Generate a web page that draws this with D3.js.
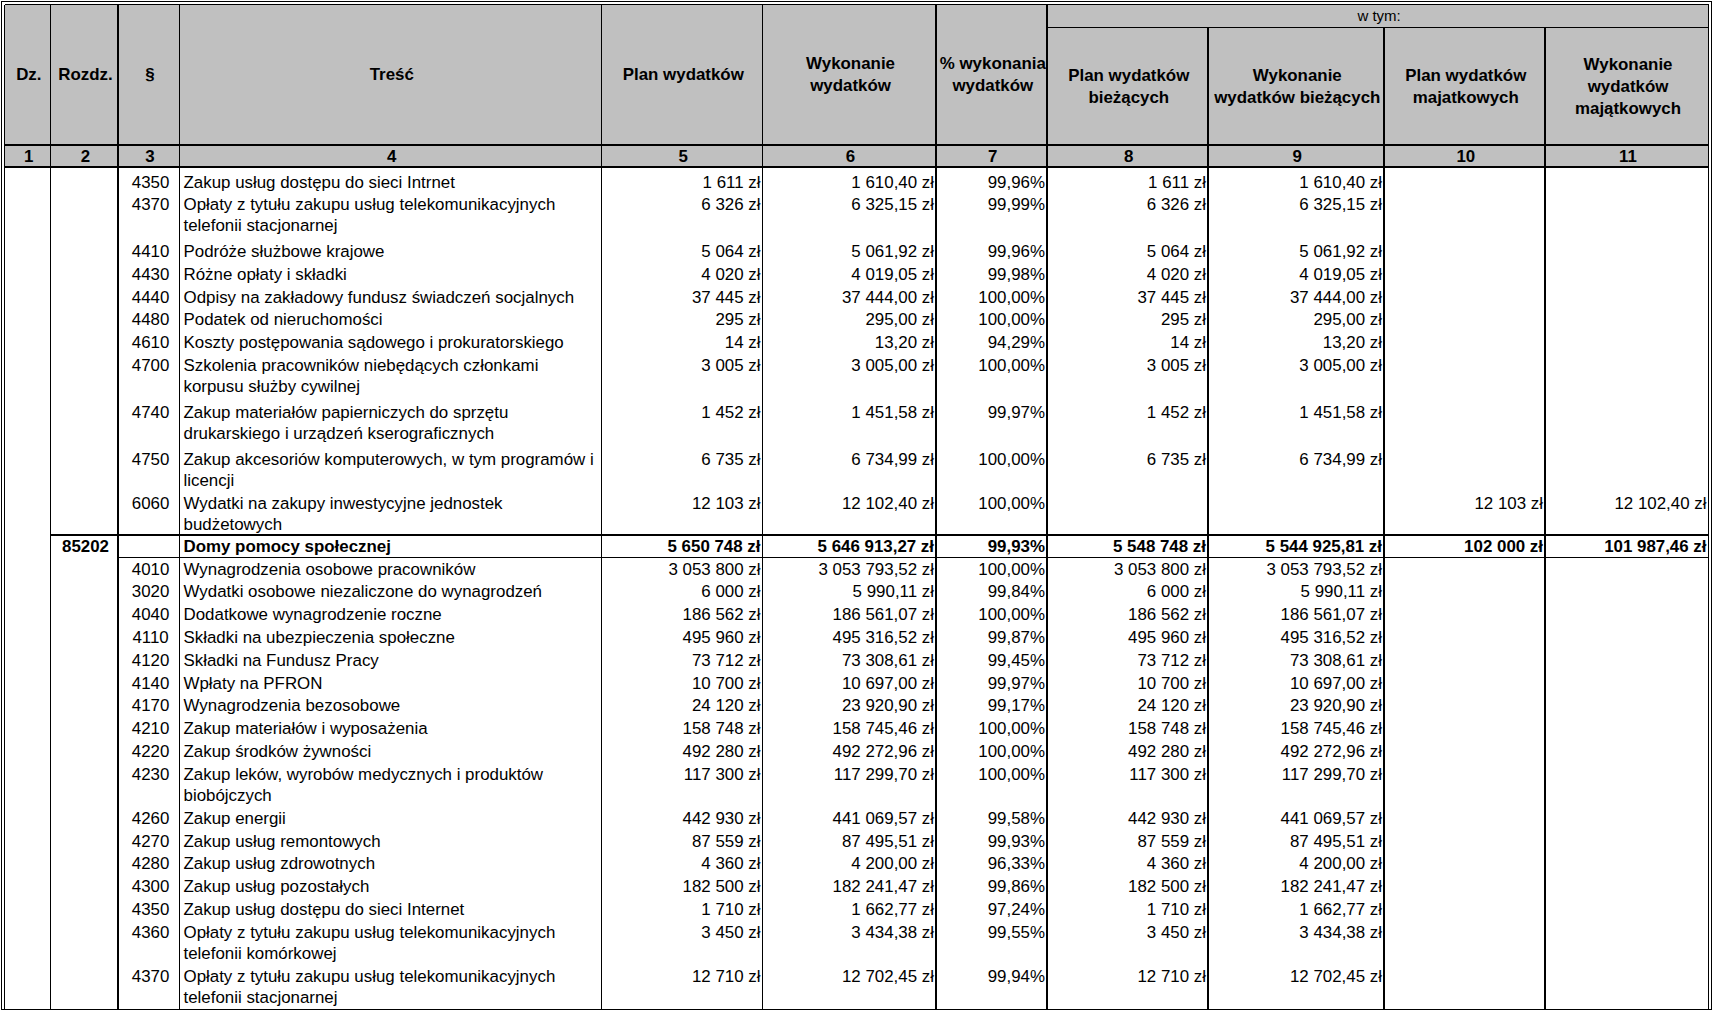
<!DOCTYPE html>
<html><head><meta charset="utf-8">
<script src="https://cdn.jsdelivr.net/npm/d3@7"></script>
<style>
html,body{margin:0;padding:0;background:#fff;}
svg{display:block;font-family:"Liberation Sans",Arial,sans-serif;}
</style>
</head><body>
<svg id="t" width="1714" height="1011"></svg>
<script>
// ---------------- DATA ----------------
const columnNumbers = ["1","2","3","4","5","6","7","8","9","10","11"];
const headerLabels = [
  ["Dz."], ["Rozdz."], ["§"], ["Treść"], ["Plan wydatków"],
  ["Wykonanie","wydatków"], ["% wykonania","wydatków"],
  ["Plan wydatków","bieżących"], ["Wykonanie","wydatków bieżących"],
  ["Plan wydatków","majatkowych"], ["Wykonanie","wydatków","majątkowych"]
];
const groupLabel = "w tym:";

const rozdzialy = ["","","","","","","","","","","","85202","","","","","","","","","","","","","","","","",""];
const paragrafy = ["4350","4370","4410","4430","4440","4480","4610","4700","4740","4750","6060","",
  "4010","3020","4040","4110","4120","4140","4170","4210","4220","4230","4260","4270","4280","4300","4350","4360","4370"];
const tresc = [
  "Zakup usług dostępu do sieci Intrnet",
  "Opłaty z tytułu zakupu usług telekomunikacyjnych\ntelefonii stacjonarnej",
  "Podróże służbowe krajowe",
  "Różne opłaty i składki",
  "Odpisy na zakładowy fundusz świadczeń socjalnych",
  "Podatek od nieruchomości",
  "Koszty postępowania sądowego i prokuratorskiego",
  "Szkolenia pracowników niebędących członkami\nkorpusu służby cywilnej",
  "Zakup materiałów papierniczych do sprzętu\ndrukarskiego i urządzeń kserograficznych",
  "Zakup akcesoriów komputerowych, w tym programów i\nlicencji",
  "Wydatki na zakupy inwestycyjne jednostek\nbudżetowych",
  "Domy pomocy społecznej",
  "Wynagrodzenia osobowe pracowników",
  "Wydatki osobowe niezaliczone do wynagrodzeń",
  "Dodatkowe wynagrodzenie roczne",
  "Składki na ubezpieczenia społeczne",
  "Składki na Fundusz Pracy",
  "Wpłaty na PFRON",
  "Wynagrodzenia bezosobowe",
  "Zakup materiałów i wyposażenia",
  "Zakup środków żywności",
  "Zakup leków, wyrobów medycznych i produktów\nbiobójczych",
  "Zakup energii",
  "Zakup usług remontowych",
  "Zakup usług zdrowotnych",
  "Zakup usług pozostałych",
  "Zakup usług dostępu do sieci Internet",
  "Opłaty z tytułu zakupu usług telekomunikacyjnych\ntelefonii komórkowej",
  "Opłaty z tytułu zakupu usług telekomunikacyjnych\ntelefonii stacjonarnej"
];
const planWydatkow = [1611,6326,5064,4020,37445,295,14,3005,1452,6735,12103,5650748,
  3053800,6000,186562,495960,73712,10700,24120,158748,492280,117300,442930,87559,4360,182500,1710,3450,12710];
const wykonanieWydatkow = [1610.40,6325.15,5061.92,4019.05,37444.00,295.00,13.20,3005.00,1451.58,6734.99,12102.40,5646913.27,
  3053793.52,5990.11,186561.07,495316.52,73308.61,10697.00,23920.90,158745.46,492272.96,117299.70,441069.57,87495.51,4200.00,182241.47,1662.77,3434.38,12702.45];
const procentWykonania = [99.96,99.99,99.96,99.98,100.00,100.00,94.29,100.00,99.97,100.00,100.00,99.93,
  100.00,99.84,100.00,99.87,99.45,99.97,99.17,100.00,100.00,100.00,99.58,99.93,96.33,99.86,97.24,99.55,99.94];
const planBiezace = [1611,6326,5064,4020,37445,295,14,3005,1452,6735,null,5548748,
  3053800,6000,186562,495960,73712,10700,24120,158748,492280,117300,442930,87559,4360,182500,1710,3450,12710];
const wykonanieBiezace = [1610.40,6325.15,5061.92,4019.05,37444.00,295.00,13.20,3005.00,1451.58,6734.99,null,5544925.81,
  3053793.52,5990.11,186561.07,495316.52,73308.61,10697.00,23920.90,158745.46,492272.96,117299.70,441069.57,87495.51,4200.00,182241.47,1662.77,3434.38,12702.45];
const planMajatkowe = [null,null,null,null,null,null,null,null,null,null,12103,102000,
  null,null,null,null,null,null,null,null,null,null,null,null,null,null,null,null,null];
const wykonanieMajatkowe = [null,null,null,null,null,null,null,null,null,null,12102.40,101987.46,
  null,null,null,null,null,null,null,null,null,null,null,null,null,null,null,null,null];

// ---------------- LAYOUT ----------------
const colEdges = [4.5, 50.5, 118, 179.5, 601.5, 762.5, 936, 1047, 1208, 1384, 1545, 1708.5];
const thickEdges = new Set([2,6,7,8,9,10]);
const groupStartCol = 7;
const yTop = 5, yGroup = 27.5, yHeadBottom = 145, yNumBottom = 167, yBottom = 1009.5;
const sectionIndex = rozdzialy.findIndex(d => d !== "");
const rowHeights = [22.7,47,22.7,22.7,22.7,22.7,22.7,47,47,44,47, 22.1,
  22.8,22.8,22.8,22.8,22.8,22.8,22.8,22.8,22.8,44,22.8,22.8,22.8,22.8,22.8,44.5,44.5];
const rowTops = [yNumBottom, ...d3.cumsum(rowHeights).map(v => yNumBottom + v)];
const xCol = d3.scaleOrdinal().domain(d3.range(colEdges.length)).range(colEdges);
const yRow = d3.scaleOrdinal().domain(d3.range(rowTops.length)).range(rowTops);
const FS = 16.9, LINE = 21, LINE_H = 22, CSHIFT = 1.3;
const cx = c => (xCol(c) + xCol(c+1)) / 2 + CSHIFT;

const svg = d3.select("#t");
svg.append("rect").attr("width",1714).attr("height",1011).attr("fill","#fff");
svg.append("rect").attr("x",xCol(0)).attr("y",yTop).attr("width",xCol(11)-xCol(0)).attr("height",yNumBottom-yTop).attr("fill","#c0c0c0");

const fmt = d3.formatLocale({decimal:",", thousands:"\u00a0", grouping:[3], currency:["","\u00a0zł"]});
const fPlan = fmt.format("$,.0f"), fExec = fmt.format("$,.2f"), fNum = fmt.format(",.2f");
const fPct = v => fNum(v) + "%";

const gText = svg.append("g").attr("fill","#000").attr("font-size",FS);

headerLabels.forEach((lines, c) => {
  const cy = c >= groupStartCol ? (yGroup + yHeadBottom) / 2 : (yTop + yHeadBottom) / 2 - 1;
  lines.forEach((ln, i) => {
    gText.append("text").attr("x",cx(c)).attr("y",cy + (i - (lines.length-1)/2)*LINE_H + 6)
      .attr("text-anchor","middle").attr("font-weight","bold").text(ln);
  });
});
gText.append("text").attr("x",(xCol(groupStartCol)+xCol(11))/2 + CSHIFT).attr("y",(yTop+yGroup)/2 + 4.5)
  .attr("text-anchor","middle").attr("font-size",15).text(groupLabel);
columnNumbers.forEach((n, c) => {
  gText.append("text").attr("x",cx(c)).attr("y",(yHeadBottom+yNumBottom)/2 + 6)
    .attr("text-anchor","middle").attr("font-weight","bold").text(n);
});

const numericCols = [
  [planWydatkow, fPlan, 4], [wykonanieWydatkow, fExec, 5], [procentWykonania, fPct, 6],
  [planBiezace, fPlan, 7], [wykonanieBiezace, fExec, 8], [planMajatkowe, fPlan, 9], [wykonanieMajatkowe, fExec, 10]
];
tresc.forEach((t, r) => {
  const isSection = rozdzialy[r] !== "";
  const off = r < sectionIndex ? 14.5 : 11.2;
  const y0 = yRow(r) + off + 6;
  const g = gText.append("g").attr("font-weight", isSection ? "bold" : "normal");
  if (rozdzialy[r]) g.append("text").attr("x",cx(1)).attr("y",y0).attr("text-anchor","middle").text(rozdzialy[r]);
  if (paragrafy[r]) g.append("text").attr("x",cx(2) + 0.5).attr("y",y0).attr("text-anchor","middle").text(paragrafy[r]);
  t.split("\n").forEach((ln, i) => {
    g.append("text").attr("x",xCol(3)+4).attr("y",y0 + i*LINE).text(ln);
  });
  numericCols.forEach(([arr, f, c]) => {
    const v = arr[r];
    if (v === null || v === undefined) return;
    g.append("text").attr("x",xCol(c+1) - (thickEdges.has(c+1) ? 2 : 2)).attr("y",y0)
      .attr("text-anchor","end").text(f(v));
  });
});

const gL = svg.append("g").attr("stroke","#000").attr("shape-rendering","crispEdges");
const hline = (x1,x2,y,w) => gL.append("line").attr("x1",x1).attr("x2",x2).attr("y1",y).attr("y2",y).attr("stroke-width",w);
const vline = (x,y1,y2,w) => gL.append("line").attr("x1",x).attr("x2",x).attr("y1",y1).attr("y2",y2).attr("stroke-width",w);
hline(1, 1712, 1.5, 1); hline(4.5, 1708.5, 4.5, 1);
vline(1.5, 1, yBottom, 1); vline(4.5, 4.5, yBottom, 1);
vline(1711.5, 1, yBottom, 1); vline(1708.5, 4.5, yBottom, 1);
hline(1, 1712, yBottom, 1);
d3.range(1, colEdges.length-1).forEach(c => {
  const y1 = c > groupStartCol ? yGroup : yTop;
  vline(xCol(c), y1, yBottom, thickEdges.has(c) ? 2 : 1);
});
hline(xCol(groupStartCol), xCol(11), yGroup, 1);
hline(xCol(0), xCol(11), yHeadBottom, 2);
hline(xCol(0), xCol(11), yNumBottom, 2);
hline(xCol(1), xCol(11), yRow(sectionIndex), 2);
hline(xCol(2), xCol(11), yRow(sectionIndex+1), 1);
</script>
</body></html>
